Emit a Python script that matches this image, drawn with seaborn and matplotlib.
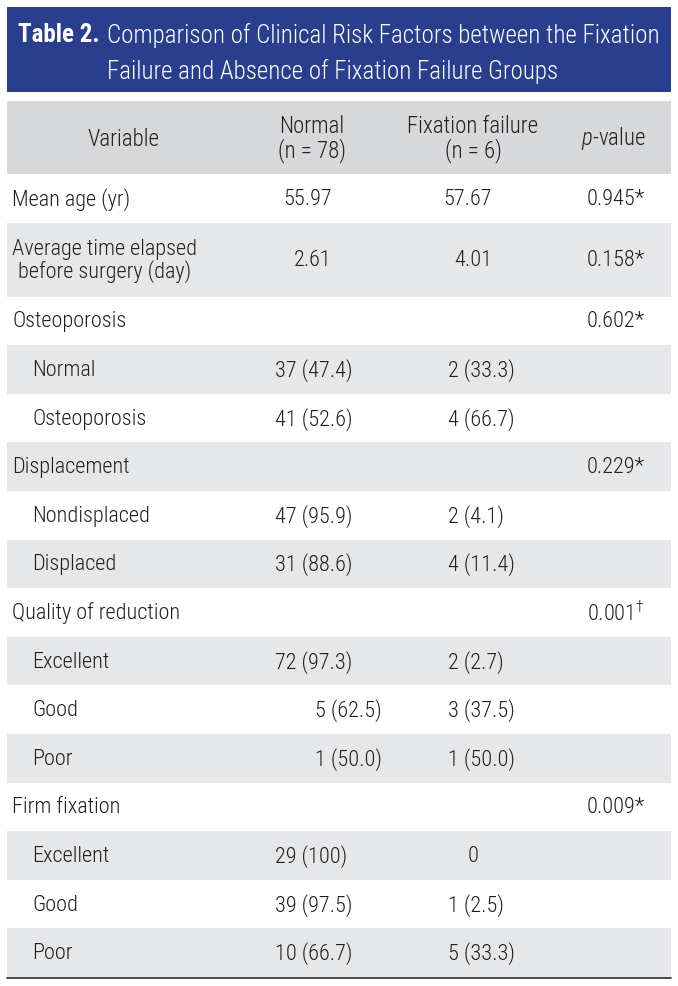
import matplotlib
matplotlib.use("Agg")
import matplotlib.pyplot as plt
from matplotlib import font_manager
from matplotlib.patches import Rectangle
import seaborn as sns

# Table 2 data
title_bold = "Table 2."
title_lines = ["Comparison of Clinical Risk Factors between the Fixation",
               "Failure and Absence of Fixation Failure Groups"]
headers = ["Variable", "Normal\n(n = 78)", "Fixation failure\n(n = 6)", "$p$-value"]

variables = ["Mean age (yr)", "Average time elapsed\nbefore surgery (day)", "Osteoporosis",
             "Normal", "Osteoporosis", "Displacement", "Nondisplaced", "Displaced",
             "Quality of reduction", "Excellent", "Good", "Poor",
             "Firm fixation", "Excellent", "Good", "Poor"]
is_sub = [0, 0, 0, 1, 1, 0, 1, 1, 0, 1, 1, 1, 0, 1, 1, 1]
normal = ["55.97", "2.61", "", "37 (47.4)", "41 (52.6)", "", "47 (95.9)", "31 (88.6)",
          "", "72 (97.3)", "        5 (62.5)", "        1 (50.0)", "", "29 (100)", "39 (97.5)", "10 (66.7)"]
failure = ["57.67", "4.01", "", "2 (33.3)", "4 (66.7)", "", "2 (4.1)", "4 (11.4)",
           "", "2 (2.7)", "3 (37.5)", "1 (50.0)", "", "    0", "1 (2.5)", "5 (33.3)"]
p_values = ["0.945*", "0.158*", "0.602*", "", "", "0.229*", "", "",
            "0.001$^{\\dagger}$", "", "", "", "0.009*", "", "", ""]
mean_rows = [0, 1]

sns.set_theme(style="white")
avail = {f.name for f in font_manager.fontManager.ttflist}
fam = "Liberation Sans"
for cand in ["Liberation Sans Narrow", "Roboto Condensed", "Open Sans Condensed", "Liberation Sans"]:
    if cand in avail:
        fam = cand
        break
plt.rcParams["font.family"] = [fam, "DejaVu Sans"]
plt.rcParams["font.weight"] = "light"
plt.rcParams["mathtext.fontset"] = "custom"
plt.rcParams["mathtext.rm"] = fam + ":light"
plt.rcParams["mathtext.it"] = fam + ":italic:light"
plt.rcParams["mathtext.bf"] = fam + ":bold"

W, H = 678, 987
fig = plt.figure(figsize=(W / 100, H / 100), dpi=100)
ax = fig.add_axes([0, 0, 1, 1])
ax.set_xlim(0, W)
ax.set_ylim(H, 0)
ax.axis("off")

txt = "#231f20"
blue = "#2a3e8e"
head_grey = "#d7d8da"
stripe = "#e6e7e8"
fs = 16
left, right = 7, 671

# title box
ax.add_patch(Rectangle((left, 8), right - left, 85, color=blue, lw=0))
t0 = ax.text(18, 35, title_bold, color="white", fontsize=18, fontweight="bold", va="center")
fig.canvas.draw()
r = fig.canvas.get_renderer()
bb = t0.get_window_extent(r)
x_title = ax.transData.inverted().transform((bb.x1, 0))[0] + 7
ax.text(x_title, 35, title_lines[0], color="white", fontsize=18, va="center")
ax.text(x_title, 71, title_lines[1], color="white", fontsize=18, va="center")

# header row
ax.add_patch(Rectangle((left, 102), right - left, 73, color=head_grey, lw=0))
head_x = [123, 312, 473, 613]
for hx, h in zip(head_x, headers):
    ax.text(hx, 139, h, ha="center", va="center", fontsize=fs + 0.5, color=txt,
            multialignment="center", linespacing=1.05)

# body rows
row_h = 48.6
y = 175
for i, var in enumerate(variables):
    h = row_h if "\n" not in var else 74
    if i % 2 == 1:
        ax.add_patch(Rectangle((left, y), right - left, h, color=stripe, lw=0))
    yc = y + h / 2
    if "\n" in var:
        ax.text(12, yc, var, ha="left", va="center", fontsize=fs, color=txt,
                multialignment="center", linespacing=1.0)
    else:
        ax.text(32 if is_sub[i] else 12, yc, var, ha="left", va="center", fontsize=fs, color=txt)
    if i in mean_rows:
        ax.text(332, yc, normal[i], ha="right", va="center", fontsize=fs, color=txt)
        ax.text(492, yc, failure[i], ha="right", va="center", fontsize=fs, color=txt)
    else:
        ax.text(275, yc, normal[i], ha="left", va="center", fontsize=fs, color=txt)
        ax.text(448, yc, failure[i], ha="left", va="center", fontsize=fs, color=txt)
    ax.text(587, yc, p_values[i], ha="left", va="center", fontsize=fs, color=txt)
    y += h

ax.plot([left, right], [y + 1, y + 1], color="#3c3c3c", lw=1.3)

fig.savefig("out.png", dpi=100)
